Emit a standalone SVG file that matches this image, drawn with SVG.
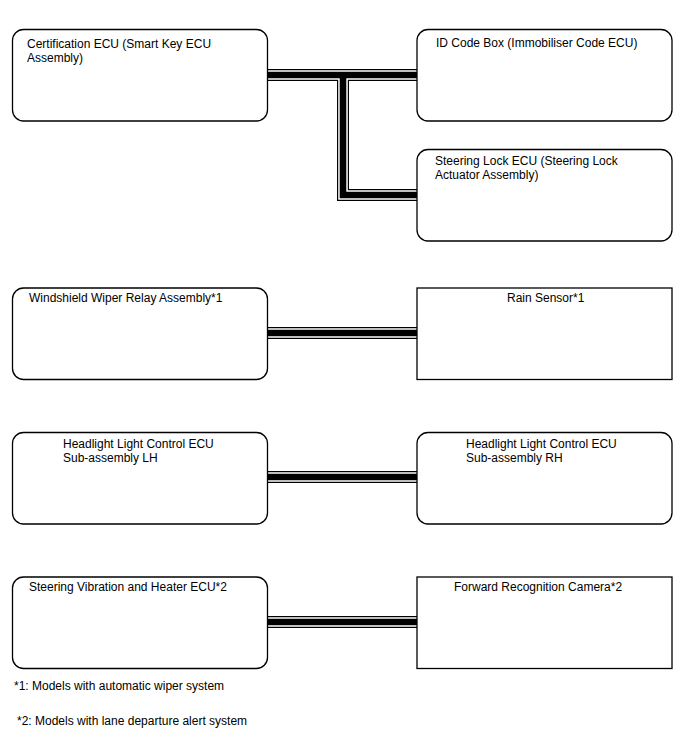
<svg xmlns="http://www.w3.org/2000/svg" width="688" height="755" viewBox="0 0 688 755">
<style>
.box{fill:#fff;stroke:#000;stroke-width:1.3}
.t{font-family:"Liberation Sans",Arial,sans-serif;font-size:12px;fill:#000}
.w1{fill:none;stroke:#000;stroke-width:12}
.w2{fill:none;stroke:#fff;stroke-width:9.6}
.w3{fill:none;stroke:#000;stroke-width:6.6}
</style>
<rect width="688" height="755" fill="#fff"/>
<g id="connectors">
<path class="w1" d="M267,75 H417 M343,75 V195 H417 M267,333 H417 M267,477 H417 M267,622 H417"/>
<path class="w2" d="M267,75 H417 M343,75 V195 H417 M267,333 H417 M267,477 H417 M267,622 H417"/>
<path class="w3" d="M267,75 H417 M343,75 V195 H417 M267,333 H417 M267,477 H417 M267,622 H417"/>
</g>
<g id="certification-ecu">
<rect class="box" x="12.5" y="29.5" width="255" height="91.5" rx="11"/>
<text class="t" x="27" y="48">Certification ECU (Smart Key ECU</text>
<text class="t" x="27" y="61.5">Assembly)</text>
</g>
<g id="id-code-box">
<rect class="box" x="417" y="29.5" width="255" height="91.5" rx="11"/>
<text class="t" x="436" y="47">ID Code Box (Immobiliser Code ECU)</text>
</g>
<g id="steering-lock-ecu">
<rect class="box" x="417" y="149.5" width="255" height="91.5" rx="11"/>
<text class="t" x="435" y="165">Steering Lock ECU (Steering Lock</text>
<text class="t" x="435" y="178.5">Actuator Assembly)</text>
</g>
<g id="windshield-wiper-relay">
<rect class="box" x="12.5" y="288" width="255" height="91.5" rx="11"/>
<text class="t" x="29" y="302">Windshield Wiper Relay Assembly*1</text>
</g>
<g id="rain-sensor">
<rect class="box" x="417" y="288" width="255" height="91.5"/>
<text class="t" x="507" y="302">Rain Sensor*1</text>
</g>
<g id="headlight-lh">
<rect class="box" x="12.5" y="432.5" width="255" height="91.5" rx="11"/>
<text class="t" x="63" y="448">Headlight Light Control ECU</text>
<text class="t" x="63" y="462">Sub-assembly LH</text>
</g>
<g id="headlight-rh">
<rect class="box" x="417" y="432.5" width="255" height="91.5" rx="11"/>
<text class="t" x="466" y="448">Headlight Light Control ECU</text>
<text class="t" x="466" y="462">Sub-assembly RH</text>
</g>
<g id="steering-vibration-ecu">
<rect class="box" x="12.5" y="577" width="255" height="91.5" rx="11"/>
<text class="t" x="29" y="591">Steering Vibration and Heater ECU*2</text>
</g>
<g id="forward-recognition-camera">
<rect class="box" x="417" y="577" width="255" height="91.5"/>
<text class="t" x="454" y="591">Forward Recognition Camera*2</text>
</g>
<g id="notes">
<text class="t" x="14" y="690">*1: Models with automatic wiper system</text>
<text class="t" x="17" y="725">*2: Models with lane departure alert system</text>
</g>
</svg>
